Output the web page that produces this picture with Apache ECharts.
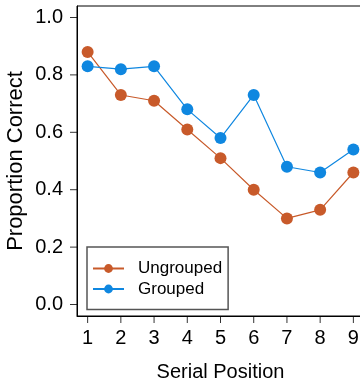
<!DOCTYPE html>
<html>
<head>
<meta charset="utf-8">
<script src="https://cdn.jsdelivr.net/npm/echarts@6/dist/echarts.min.js"></script>
<style>
  html, body { margin: 0; padding: 0; background: #fff; }
  #chart { width: 360px; height: 380px; }
</style>
</head>
<body>
<div id="chart"></div>
<script>
var positions = [1, 2, 3, 4, 5, 6, 7, 8, 9];
var ungrouped = [0.88, 0.73, 0.71, 0.61, 0.51, 0.40, 0.30, 0.33, 0.46];
var grouped = [0.83, 0.82, 0.83, 0.68, 0.58, 0.73, 0.48, 0.46, 0.54];
var yTicks = [0, 0.2, 0.4, 0.6, 0.8, 1.0];
var seriesNames = ['Ungrouped', 'Grouped'];
var seriesColors = ['#c85a2a', '#0f87e0'];

function pairs(vals) {
    return positions.map(function (p, i) { return [p, vals[i]]; });
}

var myChart = echarts.init(document.getElementById('chart'));
var font = 'Liberation Sans, Arial, Helvetica, sans-serif';

// R-like axis range: data range padded by 4% each side
var xMin = 1 - 0.04 * 8, xMax = 9 + 0.04 * 8;
var yMin = -0.04, yMax = 1.04;

// outward tick marks as thin rect symbols placed on the box edge
function tickSeries(data, horizontal) {
    return {
        type: 'scatter',
        silent: true,
        clip: false,
        data: data,
        symbol: 'rect',
        symbolSize: horizontal ? [7, 1] : [1, 7],
        symbolOffset: horizontal ? [-3.5, 0] : [0, 3.5],
        itemStyle: { color: '#000' },
        z: 5
    };
}

var option = {
    animation: false,
    grid: {
        left: 77, top: 6, width: 287, height: 310,
        outerBoundsMode: 'none',
        containLabel: false,
        show: true, borderColor: '#000', borderWidth: 1,
        backgroundColor: 'transparent'
    },
    xAxis: {
        type: 'value',
        min: xMin, max: xMax,
        axisLine: { show: true, onZero: false, lineStyle: { color: '#000', width: 1 } },
        axisTick: { show: false },
        splitLine: { show: false },
        axisLabel: { color: '#000', fontSize: 20, fontFamily: font, margin: 12,
                     customValues: positions },
        name: 'Serial Position',
        nameLocation: 'middle',
        nameGap: 46,
        nameMoveOverlap: false,
        nameTextStyle: { color: '#000', fontSize: 20, fontFamily: font }
    },
    yAxis: {
        type: 'value',
        min: yMin, max: yMax,
        axisLine: { show: true, onZero: false, lineStyle: { color: '#000', width: 1 } },
        axisTick: { show: false },
        splitLine: { show: false },
        axisLabel: {
            color: '#000', fontSize: 20, fontFamily: font, margin: 14,
            customValues: yTicks,
            formatter: function (v) { return v.toFixed(1); }
        },
        name: 'Proportion Correct',
        nameLocation: 'middle',
        nameGap: 50,
        nameMoveOverlap: false,
        nameTextStyle: { color: '#000', fontSize: 22, fontFamily: font }
    },
    legend: {
        data: seriesNames,
        orient: 'vertical',
        left: 87,
        top: 247,
        padding: [13, 6, 12, 5],
        itemWidth: 31,
        itemHeight: 11,
        itemGap: 3.5,
        borderColor: '#555',
        borderWidth: 1.5,
        textStyle: { color: '#000', fontSize: 17, fontFamily: font, padding: [0, 0, 0, 9] }
    },
    series: [
        {
            name: seriesNames[0],
            type: 'line',
            data: pairs(ungrouped),
            symbol: 'circle',
            symbolSize: 12,
            color: seriesColors[0],
            lineStyle: { width: 1.2, color: seriesColors[0] },
            itemStyle: { color: seriesColors[0] }
        },
        {
            name: seriesNames[1],
            type: 'line',
            data: pairs(grouped),
            symbol: 'circle',
            symbolSize: 12,
            color: seriesColors[1],
            lineStyle: { width: 1.2, color: seriesColors[1] },
            itemStyle: { color: seriesColors[1] }
        },
        tickSeries(positions.map(function (p) { return [p, yMin]; }), false),
        tickSeries(yTicks.map(function (v) { return [xMin, v]; }), true)
    ]
};

myChart.setOption(option);
</script>
</body>
</html>
